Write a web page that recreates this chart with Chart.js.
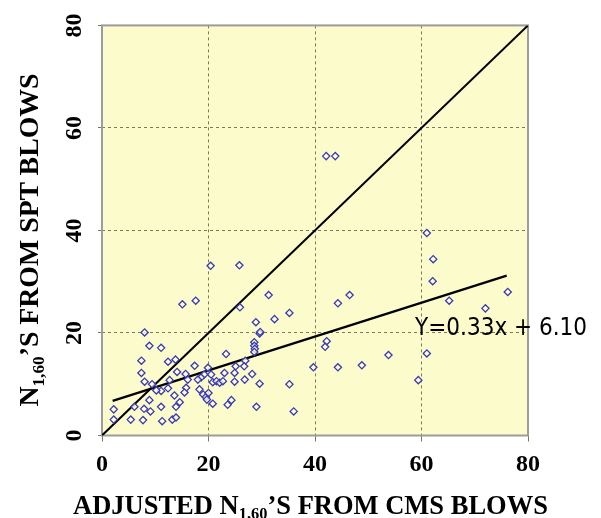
<!DOCTYPE html>
<html>
<head>
<meta charset="utf-8">
<script src="https://cdn.jsdelivr.net/npm/chart.js@4/dist/chart.umd.min.js"></script>
<style>
  html, body { margin:0; padding:0; background:#fff; }
  #wrap { position:relative; width:601px; height:518px; overflow:hidden; }
  canvas { position:absolute; left:0; top:0; }
  .ttl { position:absolute; font-family:"Liberation Serif", "Times New Roman", serif; font-weight:bold;
         line-height:26px; color:#000; white-space:nowrap; text-align:center; }
  .ttl .sb { font-size:62%; vertical-align:-0.32em; line-height:0; }
  #eq { position:absolute; left:415px; top:315px; font-family:"DejaVu Sans", sans-serif; font-size:24px;
        line-height:24px; color:#000; white-space:pre; transform:scaleX(0.9); transform-origin:left top; }
</style>
</head>
<body>
<div id="wrap">
  <canvas id="c" width="601" height="518"></canvas>
  <div class="ttl" id="xt" style="left:0; width:621px; top:492px; font-size:26.5px;">ADJUSTED N<span class="sb">1,60</span>’S FROM CMS BLOWS</div>
  <div class="ttl" id="yt" style="left:-171px; top:227px; width:400px; height:26px; font-size:27.8px; transform:rotate(-90deg); transform-origin:50% 50%;">N<span class="sb">1,60</span>’S FROM SPT BLOWS</div>
  <div id="eq">Y=0.33x + 6.10</div>
</div>
<script>
// Data
const cmsN = [
  8.0, 8.9, 11.1, 7.4, 12.4, 13.8, 7.4, 14.1, 8.0, 9.4,
  12.7, 11.1, 12.4, 10.2, 13.6, 8.9, 14.6, 13.9, 11.1, 6.1,
  7.9, 9.1, 2.2, 2.2, 5.4, 7.7, 11.3, 13.2, 13.9,
  29.6, 28.6, 28.6, 28.7, 28.6, 23.3, 17.4, 19.9, 25.1, 26.9,
  26.7, 15.7, 19.2, 18.6, 20.5, 23.0, 24.9, 28.2, 16.1, 18.0,
  20.8, 21.5, 22.1, 22.7, 24.9, 26.8, 29.6, 15.8, 15.5, 18.3,
  19.0, 19.5, 20.0, 19.7, 20.8, 23.6, 24.3, 29.0,
  25.8, 20.4, 15.1, 17.6, 25.9, 31.3, 35.2, 32.4, 28.9, 29.7,
  35.2, 36.0, 39.7, 44.3, 48.8, 53.8, 42.2, 41.9, 44.3, 46.5,
  42.1, 43.8, 61.0, 62.2, 62.1, 65.2, 72.0, 76.2, 61.0, 59.4
];
const sptN = [
  20.1, 17.5, 17.1, 14.6, 14.4, 14.8, 12.2, 12.4, 10.5, 10.0,
  10.8, 8.7, 9.2, 8.8, 7.8, 6.9, 6.5, 5.6, 5.6, 5.6,
  5.2, 4.7, 5.1, 3.1, 3.1, 3.0, 2.8, 3.1, 3.5,
  19.9, 18.2, 17.5, 16.9, 16.3, 15.9, 13.6, 13.2, 13.5, 14.6,
  13.5, 12.0, 11.9, 11.3, 11.9, 12.2, 12.2, 12.0, 10.9, 10.9,
  10.4, 10.6, 10.3, 10.6, 10.5, 10.9, 10.1, 9.3, 8.4, 9.0,
  8.0, 7.5, 8.3, 7.0, 6.2, 6.0, 6.9, 5.6,
  33.2, 33.1, 25.6, 26.3, 25.0, 27.4, 23.9, 22.7, 22.1, 20.2,
  10.0, 4.7, 13.3, 13.3, 13.7, 15.7, 18.4, 17.3, 25.8, 27.4,
  54.5, 54.5, 39.5, 34.4, 30.1, 26.3, 24.8, 28.0, 16.0, 10.8
];
const equalX = [0, 80];
const equalY = [0, 80];
const fitX = [2, 76];
const fitY = [6.76, 31.18];
const tickValues = [0, 20, 40, 60, 80];

const pts = cmsN.map((x, i) => ({x: x, y: sptN[i]}));
const eqLine = equalX.map((x, i) => ({x: x, y: equalY[i]}));
const fitLine = fitX.map((x, i) => ({x: x, y: fitY[i]}));

const gridColor = (ctx) => (ctx.tick && (ctx.tick.value === 0 || ctx.tick.value === 80)) ? 'rgba(0,0,0,0)' : '#7a7a58';

const plotBg = {
  id: 'plotBg',
  beforeDraw(chart) {
    const {ctx, chartArea: a} = chart;
    ctx.save();
    ctx.fillStyle = '#fbfbcc';
    ctx.fillRect(a.left, a.top, a.right - a.left, a.bottom - a.top);
    ctx.restore();
  },
  beforeDatasetsDraw(chart) {
    const {ctx, chartArea: a} = chart;
    ctx.save();
    ctx.strokeStyle = '#9c9c9c';
    ctx.lineWidth = 2;
    ctx.strokeRect(a.left, a.top, a.right - a.left, a.bottom - a.top);
    ctx.restore();
  }
};

const tickFont = {family: 'Liberation Serif', size: 24, weight: 'bold'};

new Chart(document.getElementById('c'), {
  type: 'scatter',
  data: {
    datasets: [
      {
        data: pts,
        pointStyle: 'rectRot',
        pointRadius: 3.6,
        pointBorderWidth: 1.3,
        pointBorderColor: '#3b3bab',
        pointBackgroundColor: 'rgba(255,255,255,0.75)',
        showLine: false,
        order: 1
      },
      {
        data: eqLine,
        showLine: true,
        borderColor: '#000',
        borderWidth: 2,
        pointRadius: 0,
        order: 2
      },
      {
        data: fitLine,
        showLine: true,
        borderColor: '#000',
        borderWidth: 2.2,
        pointRadius: 0,
        order: 2
      }
    ]
  },
  options: {
    responsive: false,
    animation: false,
    devicePixelRatio: 1,
    layout: { padding: {left: 0, right: 73, top: 17, bottom: 0} },
    plugins: { legend: {display: false}, tooltip: {enabled: false} },
    scales: {
      x: {
        type: 'linear', min: 0, max: 80,
        afterBuildTicks: (s) => { s.ticks = tickValues.map(v => ({value: v})); },
        afterFit: (s) => { s.height = 82.5; },
        ticks: { font: tickFont, color: '#000', padding: 9, maxRotation: 0 },
        grid: { color: gridColor, lineWidth: 1, drawTicks: true, tickLength: 6, tickColor: '#7a7a58', tickBorderDash: [] },
        border: { display: false, dash: [3, 3] }
      },
      y: {
        type: 'linear', min: 0, max: 80,
        afterBuildTicks: (s) => { s.ticks = tickValues.map(v => ({value: v})); },
        afterFit: (s) => { s.width = 102; },
        ticks: { font: tickFont, color: '#000', padding: 11, minRotation: 90, maxRotation: 90, crossAlign: 'center' },
        grid: { color: gridColor, lineWidth: 1, drawTicks: true, tickLength: 4, tickColor: '#7a7a58', tickBorderDash: [] },
        border: { display: false, dash: [3, 3] }
      }
    }
  },
  plugins: [plotBg]
});
</script>
</body>
</html>
